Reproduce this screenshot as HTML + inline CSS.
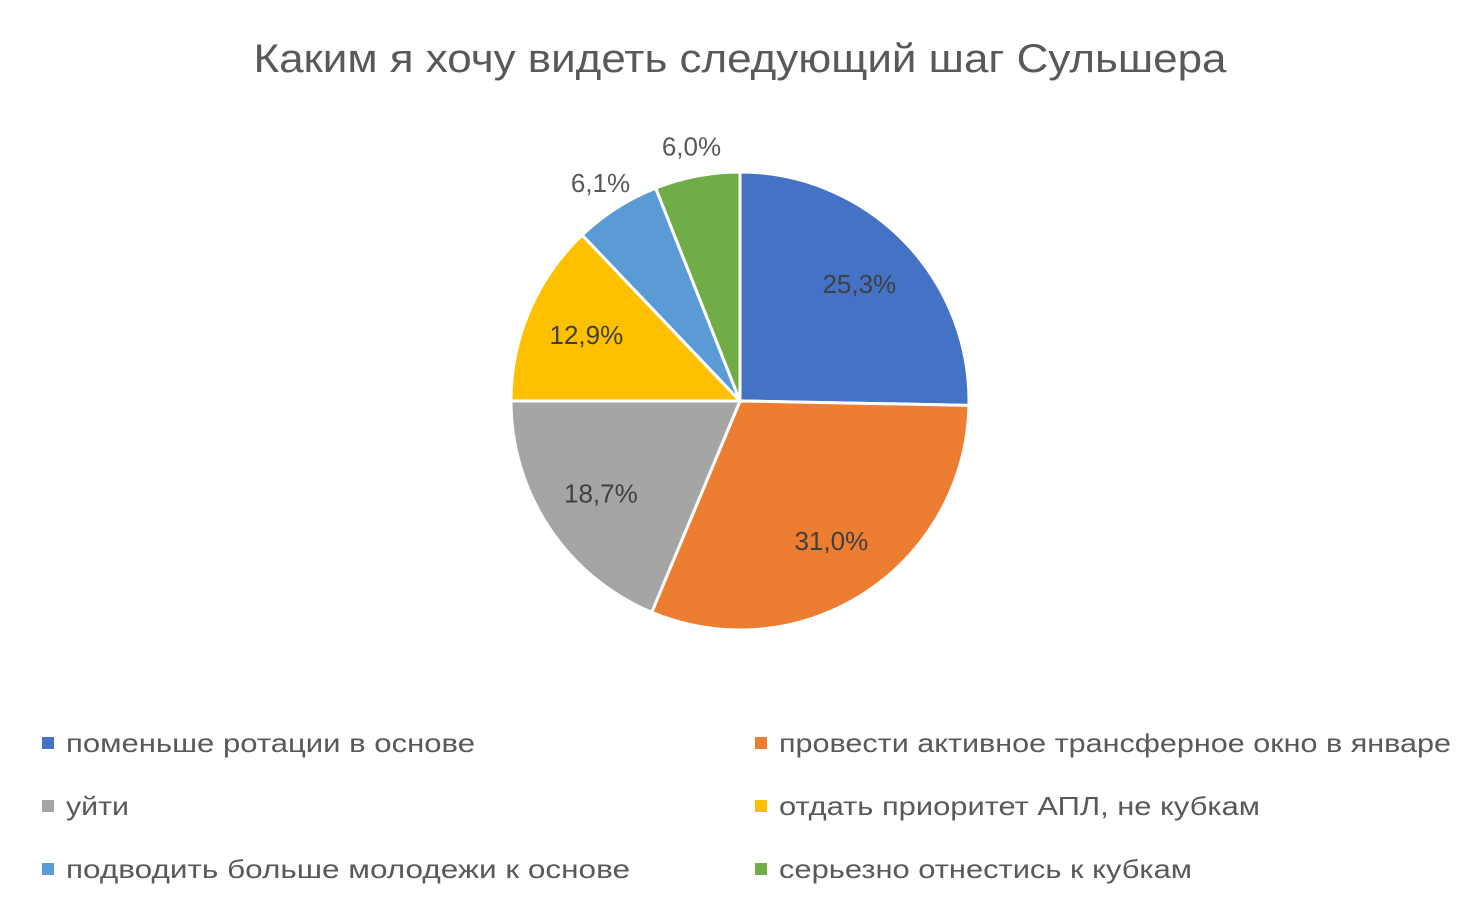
<!DOCTYPE html>
<html><head><meta charset="utf-8">
<style>
html,body{margin:0;padding:0;background:#fff;}
svg{display:block;font-family:"Liberation Sans","DejaVu Sans",sans-serif;}
</style></head>
<body>
<svg id="chart" width="1460" height="900" viewBox="0 0 1460 900">
<text x="740" y="72" text-anchor="middle" font-size="40" fill="#595959" textLength="973" lengthAdjust="spacingAndGlyphs">Каким я хочу видеть следующий шаг Сульшера</text>
<g id="slices"></g>
<g id="labels"></g>
<g id="legend"></g>
</svg>
<script>
const categories = ["поменьше ротации в основе","провести активное трансферное окно в январе","уйти","отдать приоритет АПЛ, не кубкам","подводить больше молодежи к основе","серьезно отнестись к кубкам"];
const values = [25.3, 31.0, 18.7, 12.9, 6.1, 6.0];
const valueLabels = ["25,3%","31,0%","18,7%","12,9%","6,1%","6,0%"];
const colors = ["#4472C4","#ED7D31","#A5A5A5","#FFC000","#5B9BD5","#70AD47"];

const NS = "http://www.w3.org/2000/svg";
const cx = 740, cy = 401, r = 229;
const total = values.reduce((a,b)=>a+b,0);
const sG = document.getElementById('slices');
const lG = document.getElementById('labels');
const gG = document.getElementById('legend');
function pt(frac, rad){const a=frac*2*Math.PI;return [cx+rad*Math.sin(a), cy-rad*Math.cos(a)];}
let acc = 0;
values.forEach((v,i)=>{
  const f0 = acc/total, f1 = (acc+v)/total; acc += v;
  const p0 = pt(f0,r), p1 = pt(f1,r);
  const large = (f1-f0)>0.5?1:0;
  const path = document.createElementNS(NS,'path');
  path.setAttribute('d',`M${cx},${cy} L${p0[0]},${p0[1]} A${r},${r} 0 ${large} 1 ${p1[0]},${p1[1]} Z`);
  path.setAttribute('fill',colors[i]);
  path.setAttribute('stroke','#fff');
  path.setAttribute('stroke-width','3');
  path.setAttribute('stroke-linejoin','round');
  
  
  sG.appendChild(path);
  const frac = (f0+f1)/2;
  const inside = (f1-f0) > 0.1;
  const lp = pt(frac, inside ? r*0.73 : r+30);
  const t = document.createElementNS(NS,'text');
  t.setAttribute('x',lp[0]); t.setAttribute('y',lp[1]+9);
  t.setAttribute('text-anchor','middle');
  t.setAttribute('font-size','26');
  t.setAttribute('fill', inside ? '#404040' : '#595959');
  t.textContent = valueLabels[i];
  
  
  lG.appendChild(t);
});
const legendWidths = [409, 672, 63, 481, 564, 413];
categories.forEach((c,i)=>{
  const col = i%2, row = Math.floor(i/2);
  const x = col ? 755 : 42, y = 743 + row*63;
  const g = document.createElementNS(NS,'g');
  
  
  const rc = document.createElementNS(NS,'rect');
  rc.setAttribute('x',x); rc.setAttribute('y',y-6); rc.setAttribute('width',12); rc.setAttribute('height',12);
  rc.setAttribute('fill',colors[i]);
  
  
  g.appendChild(rc);
  const t = document.createElementNS(NS,'text');
  t.setAttribute('x',x+24); t.setAttribute('y',y+9);
  t.setAttribute('font-size','26'); t.setAttribute('fill','#595959');
  t.setAttribute('textLength', legendWidths[i]);
  t.setAttribute('lengthAdjust','spacingAndGlyphs');
  t.textContent = c;
  
  
  g.appendChild(t);
  gG.appendChild(g);
});
</script>
</body></html>
